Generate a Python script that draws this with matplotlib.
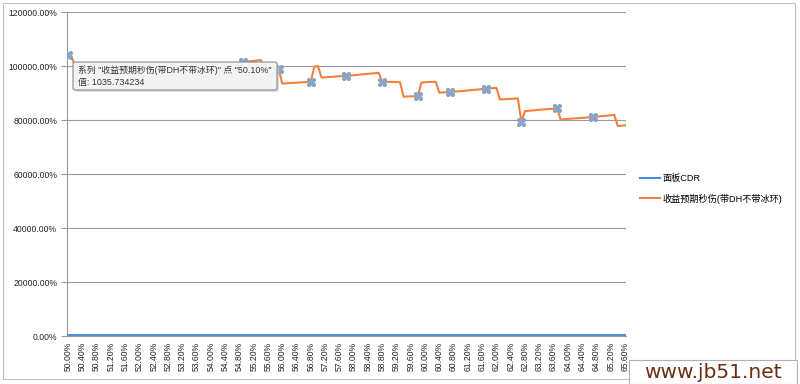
import numpy as np
import matplotlib
matplotlib.use("Agg")
import matplotlib.pyplot as plt
from matplotlib.patches import FancyBboxPatch, Rectangle
from matplotlib.ticker import FuncFormatter

plt.rcParams['font.family'] = ['Liberation Sans', 'Noto Sans CJK SC', 'DejaVu Sans']

# x categories: 50.00% .. 65.60% in 0.1% steps
categories = [f"{50 + i * 0.1:.2f}%" for i in range(157)]

# 面板CDR: flat at 0 on this scale
panel_cdr = [2.0] * 157

# 收益预期秒伤(带DH不带冰环)
dps = [
    1040, 1035.734234,
    996, 997, 998, 999, 1000, 1001, 1002, 1003, 1004, 1005, 1006, 1007,
    978, 979, 980, 981, 982, 983, 984, 985, 986, 987, 988,
    1000, 1001, 1002, 1003, 1004, 1005, 1006, 1007, 1008, 1009, 1010, 1011,
    985, 986, 987, 988, 989, 990, 991, 992, 993, 994, 995, 996,
    1015, 1016, 1017.5, 1019, 1020.5, 1022,
    985, 986, 987, 988, 989,
    935, 936, 937, 937.5, 938, 939, 940, 941, 942,
    998, 1000,
    957, 958, 959, 960, 961, 962, 963, 964, 965, 966, 967, 968.5, 970, 971, 972, 973.5, 975,
    942, 941.5, 941, 941, 940.5, 940,
    886, 887, 887.5, 888, 889,
    939, 940, 940.5, 941, 942,
    901, 902, 903, 904, 905, 906, 907, 908, 909.5, 911, 912, 913, 914.5, 916, 917, 918, 919,
    876, 877, 877.5, 878, 879, 880,
    794,
    833, 834, 835, 836.5, 838, 839, 840, 841, 842, 843,
    802, 803, 804, 805, 806, 807, 808, 809, 810, 811, 812, 814, 815, 816, 817.5, 819,
    778, 779, 780,
]

# points showing selection handles
handles = [0, 49, 59, 68, 78, 88, 98, 107, 117, 127, 137, 147]

fig = plt.figure(figsize=(8, 3.84), dpi=100)
W, H = 800, 384
ax = fig.add_axes([67 / W, 1 - 336 / H, (626 - 67) / W, (336 - 12) / H])

x = np.arange(len(categories))
ax.plot(x, panel_cdr, color='#4A90D9', lw=1.5, label='面板CDR', zorder=3)
ax.plot(x, dps, color='#F0823C', lw=1.5, label='收益预期秒伤(带DH不带冰环)', zorder=3)
ax.plot(handles, [dps[i] for i in handles], ls='none', marker='$\u2318$',
        ms=5.5, color='#8aa4c8', zorder=4)

ax.set_xlim(-0.3, 156.3)
ax.set_ylim(0, 1200)
ax.set_yticks(range(0, 1201, 200))
ax.yaxis.set_major_formatter(FuncFormatter(lambda v, p: f"{v * 100:.2f}%"))
ax.set_xticks(x[::4])
ax.set_xticklabels(categories[::4], rotation=90)
ax.tick_params(axis='x', length=0, pad=4, labelsize=6.2, colors='#222222')
ax.tick_params(axis='y', length=4, width=0.8, color='#9a9a9a', pad=3,
               labelsize=6.2, labelcolor='#222222')
ax.yaxis.grid(True, color='#9a9a9a', lw=0.8)
ax.set_axisbelow(True)
for s in ['top', 'right']:
    ax.spines[s].set_visible(False)
ax.spines['left'].set_color('#9a9a9a')
ax.spines['bottom'].set_color('#9a9a9a')

ax.legend(loc='center left', bbox_to_anchor=(632 / W, 1 - 189 / H),
          bbox_transform=fig.transFigure, frameon=False, fontsize=6.6,
          handlelength=2.2, handletextpad=0.2, labelspacing=1.1)

# tooltip
shadow = FancyBboxPatch((75 / W, 1 - 92 / H), (277 - 73) / W, 28 / H,
                        boxstyle="round,pad=0,rounding_size=0.004",
                        transform=fig.transFigure, facecolor='#c8c8c8',
                        edgecolor='none', alpha=0.6, zorder=10)
tip = FancyBboxPatch((73 / W, 1 - 90 / H), (277 - 73) / W, 28 / H,
                     boxstyle="round,pad=0,rounding_size=0.004",
                     transform=fig.transFigure, facecolor='#f3f3f3',
                     edgecolor='#8a8a8a', lw=0.8, zorder=11)
fig.patches.extend([shadow, tip])
fig.text(78 / W, 1 - 70 / H, '系列 "收益预期秒伤(带DH不带冰环)" 点 "50.10%"',
         fontsize=6.4, va='center', color='#333333', zorder=12)
fig.text(78 / W, 1 - 82 / H, '值: 1035.734234',
         fontsize=6.4, va='center', color='#333333', zorder=12)

# chart frame
fig.patches.append(Rectangle((3 / W, 5 / H), 792 / W, 376 / H, transform=fig.transFigure,
                             facecolor='none', edgecolor='#b8c4d0', lw=0.8, zorder=1))

# watermark
fig.patches.append(Rectangle((629 / W, 0), 168 / W, 24 / H, transform=fig.transFigure,
                             facecolor='white', edgecolor='#b0b0b0', lw=0.8, zorder=20))
fig.text(713 / W, 12 / H, 'www.jb51.net', family='DejaVu Sans', fontsize=14.5,
         color='#6b2f14', ha='center', va='center', zorder=21)

fig.savefig('out.png', dpi=100)
